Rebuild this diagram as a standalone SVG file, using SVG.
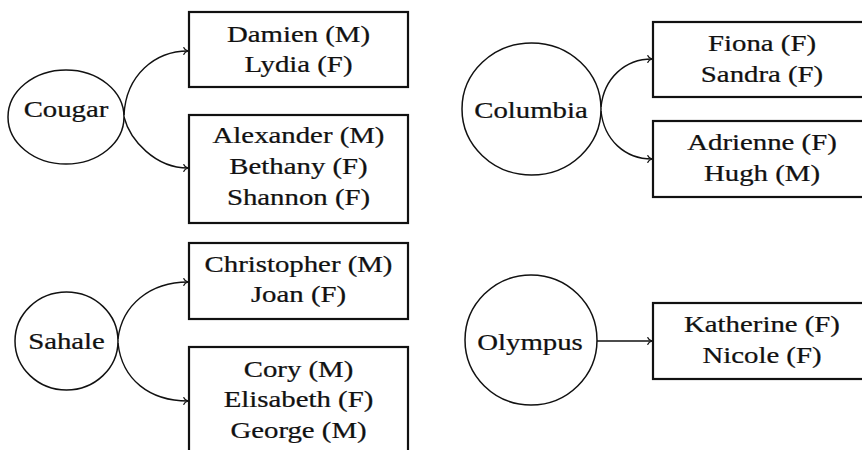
<svg xmlns="http://www.w3.org/2000/svg" width="862" height="450" viewBox="0 0 862 450">
<defs>
<style>
.t{font-family:'Liberation Serif','Times New Roman',serif;font-size:24px;fill:#111;stroke:#111;stroke-width:0.25;text-anchor:middle}
.box{fill:#fff;stroke:#111;stroke-width:2.2}
.mtn{fill:#fff;stroke:#111;stroke-width:1.5}
.edge{fill:none;stroke:#111;stroke-width:1.4;marker-end:url(#arr)}
</style>
<marker id="arr" viewBox="-6 -5 7 10" refX="0" refY="0" markerWidth="7" markerHeight="10" markerUnits="userSpaceOnUse" orient="auto">
<path d="M-4.5,-3.8 C-3.5,-1.5 -1,-0.3 0,0 C-1,0.3 -3.5,1.5 -4.5,3.8" fill="none" stroke="#111" stroke-width="1.3"/>
</marker>
</defs>
<rect width="862" height="450" fill="#fff"/>

<g id="connectors">
<path class="edge" d="M124,115 C126,75 155,51 188,51"/>
<path class="edge" d="M124,117 C130,140 155,168 188,168"/>
<path class="edge" d="M118,339 C122,305 150,282 188,282"/>
<path class="edge" d="M118,343 C122,380 150,401 188,401"/>
<path class="edge" d="M601,107 C604,78 625,59 652,59"/>
<path class="edge" d="M601,111 C604,140 625,159 652,159"/>
<path class="edge" d="M597,341 L652,341"/>
</g>

<g id="cougar">
<ellipse class="mtn" cx="66" cy="117" rx="58" ry="47"/>
<text class="t" transform="translate(66,117) scale(1.2,1)">Cougar</text>
</g>
<g id="cougar-a">
<rect class="box" x="189" y="12" width="219" height="75"/>
<text class="t" transform="translate(298.5,42) scale(1.2,1)"><tspan x="0" y="0">Damien (M)</tspan><tspan x="0" y="30">Lydia (F)</tspan></text>
</g>
<g id="cougar-b">
<rect class="box" x="189" y="115" width="219" height="108"/>
<text class="t" transform="translate(298.5,143) scale(1.2,1)"><tspan x="0" y="0">Alexander (M)</tspan><tspan x="0" y="31">Bethany (F)</tspan><tspan x="0" y="62">Shannon (F)</tspan></text>
</g>

<g id="sahale">
<ellipse class="mtn" cx="66.5" cy="341" rx="51.5" ry="49"/>
<text class="t" transform="translate(66.5,349) scale(1.2,1)">Sahale</text>
</g>
<g id="sahale-a">
<rect class="box" x="189" y="243" width="219" height="76"/>
<text class="t" transform="translate(298.5,272) scale(1.2,1)"><tspan x="0" y="0">Christopher (M)</tspan><tspan x="0" y="30">Joan (F)</tspan></text>
</g>
<g id="sahale-b">
<rect class="box" x="189" y="347" width="219" height="110"/>
<text class="t" transform="translate(298.5,377) scale(1.2,1)"><tspan x="0" y="0">Cory (M)</tspan><tspan x="0" y="30.5">Elisabeth (F)</tspan><tspan x="0" y="61">George (M)</tspan></text>
</g>

<g id="columbia">
<ellipse class="mtn" cx="531.5" cy="109" rx="69.5" ry="66"/>
<text class="t" transform="translate(531,118) scale(1.2,1)">Columbia</text>
</g>
<g id="columbia-a">
<rect class="box" x="653" y="22" width="218" height="75"/>
<text class="t" transform="translate(762,51) scale(1.2,1)"><tspan x="0" y="0">Fiona (F)</tspan><tspan x="0" y="31">Sandra (F)</tspan></text>
</g>
<g id="columbia-b">
<rect class="box" x="653" y="121" width="218" height="76"/>
<text class="t" transform="translate(762,150) scale(1.2,1)"><tspan x="0" y="0">Adrienne (F)</tspan><tspan x="0" y="31">Hugh (M)</tspan></text>
</g>

<g id="olympus">
<ellipse class="mtn" cx="531" cy="340" rx="66" ry="65"/>
<text class="t" transform="translate(530,350) scale(1.2,1)">Olympus</text>
</g>
<g id="olympus-a">
<rect class="box" x="653" y="303" width="218" height="76"/>
<text class="t" transform="translate(762,332) scale(1.2,1)"><tspan x="0" y="0">Katherine (F)</tspan><tspan x="0" y="31">Nicole (F)</tspan></text>
</g>
</svg>
